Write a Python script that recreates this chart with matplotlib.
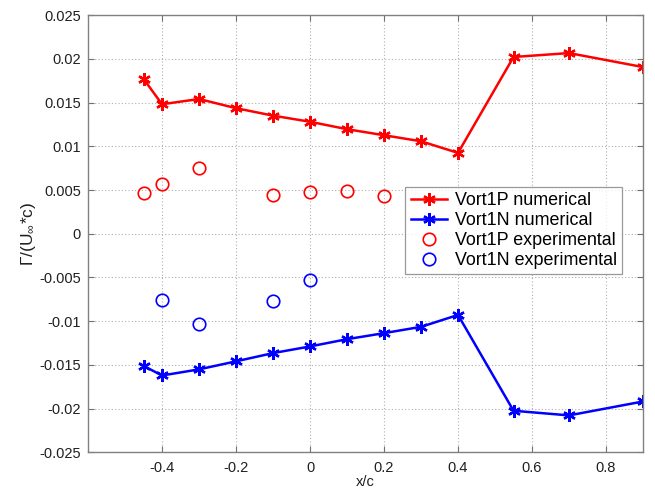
import matplotlib
matplotlib.use("Agg")
import matplotlib.pyplot as plt

plt.rcParams['font.family'] = ['Liberation Sans', 'DejaVu Sans']
plt.rcParams['mathtext.default'] = 'regular'

# Numerical circulation along the chord
x_num = [-0.45, -0.4, -0.3, -0.2, -0.1, 0.0, 0.1, 0.2, 0.3, 0.4, 0.55, 0.7, 0.9]
vort1p_num = [0.0177, 0.0148, 0.0154, 0.01435, 0.0135, 0.0128, 0.01195, 0.01126,
              0.01057, 0.00924, 0.0202, 0.02065, 0.01905]
vort1n_num = [-0.0151, -0.0162, -0.0155, -0.01458, -0.01364, -0.01288, -0.01205,
              -0.01136, -0.01064, -0.00928, -0.02023, -0.02076, -0.01917]

# Experimental measurements
x_exp_p = [-0.45, -0.4, -0.3, -0.1, 0.0, 0.1, 0.2]
vort1p_exp = [0.00466, 0.00569, 0.00756, 0.00447, 0.00481, 0.00492, 0.00435]
x_exp_n = [-0.4, -0.3, -0.1, 0.0]
vort1n_exp = [-0.00758, -0.0103, -0.00769, -0.0053]

xticks = [-0.4, -0.2, 0, 0.2, 0.4, 0.6, 0.8]
yticks = [-0.025, -0.02, -0.015, -0.01, -0.005, 0, 0.005, 0.01, 0.015, 0.02, 0.025]

fig = plt.figure(figsize=(6.55, 4.92), dpi=100)
ax = fig.add_axes([0.1344, 0.0803, 0.9817 - 0.1344, 0.9695 - 0.0803])

star = (6, 2, 0)
ax.plot(x_num, vort1p_num, color='#ff0000', lw=1.8, marker=star, ms=9, mew=1.7,
        label='Vort1P numerical')
ax.plot(x_num, vort1n_num, color='#0000ff', lw=1.8, marker=star, ms=9, mew=1.7,
        label='Vort1N numerical')
ax.plot(x_exp_p, vort1p_exp, ls='none', marker='o', ms=9, mfc='none',
        mec='#ff0000', mew=1.2, label='Vort1P experimental')
ax.plot(x_exp_n, vort1n_exp, ls='none', marker='o', ms=9, mfc='none',
        mec='#0000ff', mew=1.2, label='Vort1N experimental')

ax.set_xlim(-0.6, 0.9)
ax.set_ylim(-0.025, 0.025)
ax.set_xticks(xticks)
ax.set_xticklabels([f'{t:g}' for t in xticks])
ax.set_yticks(yticks)
ax.set_yticklabels([f'{t:g}' for t in yticks])

ax.grid(True, ls=(0, (1, 2)), color='#b0b0b0', lw=0.8)
ax.tick_params(direction='in', top=True, right=True, length=4, width=0.8,
               color='#707070', labelsize=10.5, labelcolor='#202020')
ax.tick_params(axis='x', pad=6)
ax.tick_params(axis='y', pad=5)
for s in ax.spines.values():
    s.set_color('#808080')
    s.set_linewidth(1.0)

ax.set_xlabel('x/c', fontsize=10.5, color='#202020', labelpad=0)
ax.set_ylabel(r'$\Gamma$/(U$_{\infty}$*c)', fontsize=12.5, color='#202020', labelpad=1)

leg = ax.legend(loc='upper left', bbox_to_anchor=(0.572, 0.607), fontsize=12.9,
                frameon=True, fancybox=False, edgecolor='#808080',
                borderpad=0.3, labelspacing=0.16, handlelength=2.0,
                handletextpad=0.45, borderaxespad=0)
leg.get_frame().set_linewidth(0.9)

fig.savefig('out.png', dpi=100)
